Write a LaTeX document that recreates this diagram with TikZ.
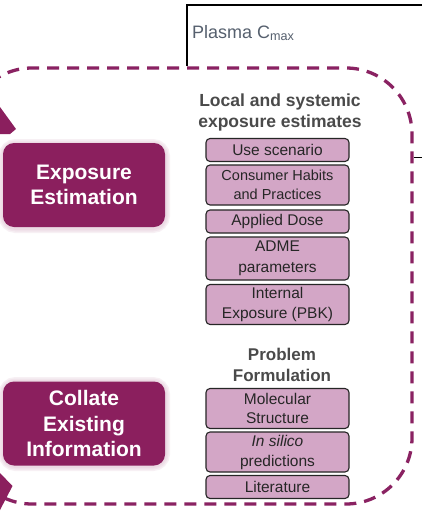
\documentclass[tikz,border=0pt]{standalone}
\usepackage{fontspec}
\setmainfont{Liberation Sans}
\definecolor{plum}{HTML}{8B1F5E}
\definecolor{mauve}{HTML}{D3A6C6}
\definecolor{framecol}{HTML}{8A2262}
\definecolor{ink}{HTML}{262626}
\definecolor{heading}{HTML}{4A4A4A}
\definecolor{plasmatext}{HTML}{56606E}
\newcommand{\fsz}[2]{\fontsize{#1}{#2}\selectfont}
\tikzset{
  item/.style={draw=ink, line width=1.1pt, fill=mauve, rounded corners=4pt,
    minimum width=143pt, inner sep=0pt, align=center, text=ink,
    font=\fsz{15.5}{18.5}},
  stage/.style={fill=plum, rounded corners=11pt, text=white, align=center,
    minimum width=162pt, minimum height=84pt, inner sep=0pt,
    font=\bfseries\fsz{21}{25.5}},
  title/.style={text=heading, align=center, font=\bfseries\fsz{17.5}{21}},
  glow/.style={draw=plum!35, rounded corners=12pt, opacity=0.18}
}
\begin{document}
\begin{tikzpicture}[x=1pt,y=-1pt]
\useasboundingbox (0,0) rectangle (422,512);
\clip (0,0) rectangle (422,512);
\fill[white] (0,0) rectangle (422,512);

% plasma concentration panel (continues to the right)
\coordinate (pbase) at (187,66);
\coordinate (pcorner) at (187,5);
\coordinate (pright) at (430,5);
\draw[line width=1.7pt] (pbase) -- (pcorner) -- (pright);
\node[anchor=west, text=plasmatext, font=\fsz{18}{20}, inner sep=0pt] (plasma) at (192,33)
  {Plasma C\textsubscript{max}};

% dashed frame grouping the two stages
\draw[framecol, line width=3.3pt, dash pattern=on 12pt off 8pt, rounded corners=66pt]
  (-34,68) rectangle (412,504);
\coordinate (tickA) at (414,157);
\coordinate (tickB) at (424,157);
\draw[line width=1pt] (tickA) -- (tickB);

% arrow tips entering from the left
\fill[plum] (0,107) -- (16,129) -- (10,134) -- (0,134) -- cycle;
\fill[plum] (0,473) -- (12.5,486) -- (0,510) -- cycle;

% stage boxes with a soft halo
\foreach \w in {10,7,4} {
  \draw[glow, line width=\w pt] (3.5,144) rectangle (165,228);
  \draw[glow, line width=\w pt] (3.5,382) rectangle (165,466);
}
\node[stage] (expo) at (84,185) {Exposure\\Estimation};
\node[stage] (coll) at (84,423.5) {Collate\\Existing\\Information};

% exposure estimate inputs
\node[title] (ttlA) at (280,112.5) {Local and systemic\\exposure estimates};
\node[item, minimum height=23pt] (use) at (277.5,150) {Use scenario};
\node[item, minimum height=40pt, font=\fsz{14.5}{19}] (habits) at (277.5,185) {Consumer Habits\\and Practices};
\node[item, minimum height=23pt] (dose) at (277.5,221.5) {Applied Dose};
\node[item, minimum height=43pt, font=\fsz{15.5}{21}] (adme) at (277.5,258.5) {ADME\\parameters};
\node[item, minimum height=40pt, font=\fsz{15.5}{19.5}] (pbk) at (277.5,304.5) {Internal\\Exposure (PBK)};

% problem formulation inputs
\node[title, font=\bfseries\fsz{17}{20.5}] (ttlB) at (282,365) {Problem\\Formulation};
\node[item, minimum height=40pt, font=\fsz{15.5}{19.5}] (mol) at (277.5,408.5) {Molecular\\Structure};
\node[item, minimum height=40pt, font=\fsz{15.5}{20}] (silico) at (277.5,452) {\itshape In silico\\predictions};
\node[item, minimum height=23pt] (lit) at (277.5,487) {Literature};
\end{tikzpicture}
\end{document}
